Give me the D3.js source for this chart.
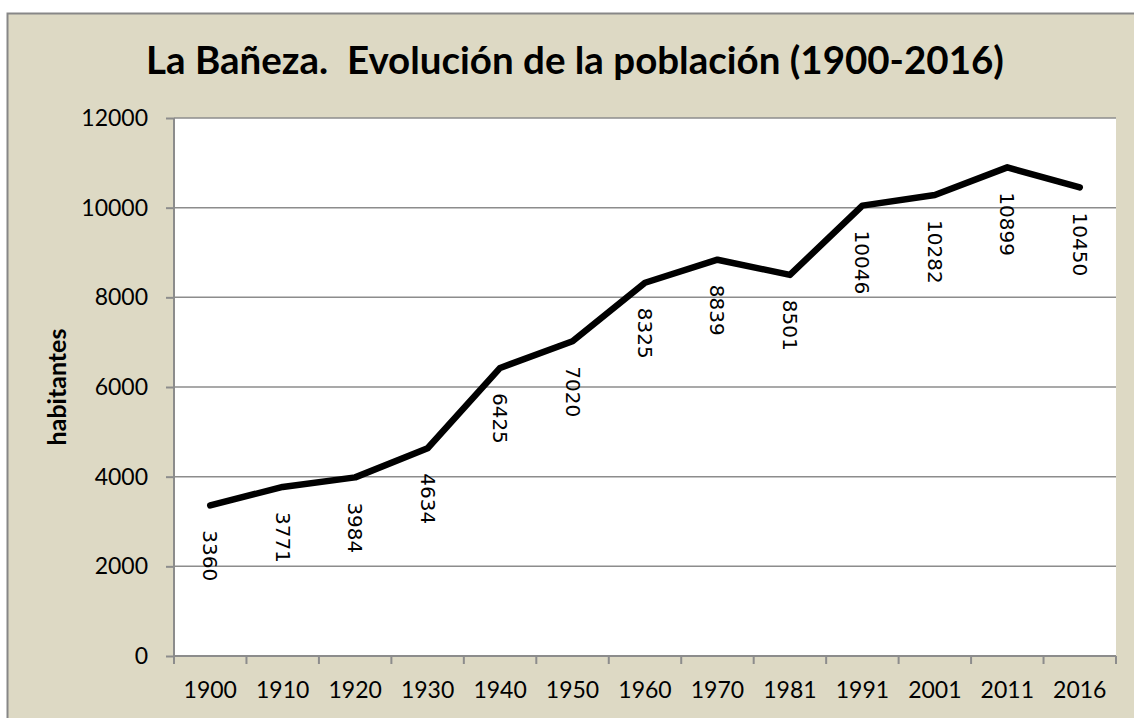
<!DOCTYPE html>
<html><head><meta charset="utf-8">
<script src="https://cdn.jsdelivr.net/npm/d3@7"></script>
<style>
body{margin:0;background:#fff;}
svg{display:block;}
</style></head>
<body>
<script>
const years = ["1900","1910","1920","1930","1940","1950","1960","1970","1981","1991","2001","2011","2016"];
const population = [3360,3771,3984,4634,6425,7020,8325,8839,8501,10046,10282,10899,10450];
const yTicks = [0,2000,4000,6000,8000,10000,12000];
const title = "La Bañeza.  Evolución de la población (1900-2016)";
const yLabel = "habitantes";

const W = 1134, H = 718;
const svg = d3.select("body").append("svg").attr("width", W).attr("height", H);

// chart background with border
svg.append("rect").attr("x", 7.5).attr("y", 13.5).attr("width", W + 20).attr("height", H + 20)
  .attr("fill", "#ddd9c4").attr("stroke", "#878787").attr("stroke-width", 2);

const pL = 174, pR = 1116, pT = 118, pB = 656;

const x = d3.scaleBand().domain(years).range([pL, pR]);
const y = d3.scaleLinear().domain([0, 12000]).range([pB, pT]);

svg.append("rect").attr("x", pL).attr("y", pT).attr("width", pR - pL).attr("height", pB - pT).attr("fill", "#fff");

// gridlines
svg.append("g").selectAll("line").data(yTicks.filter(d => d > 0)).join("line")
  .attr("x1", pL).attr("x2", pR).attr("y1", d => y(d)).attr("y2", d => y(d))
  .attr("stroke", "#8c8c8c").attr("stroke-width", 1.5);

const fontTick = "Lato, 'Open Sans', sans-serif";

// y axis
const yAxis = svg.append("g").attr("transform", `translate(${pL},0)`)
  .call(d3.axisLeft(y).tickValues(yTicks).tickSize(8).tickPadding(18).tickFormat(d3.format("d")));
yAxis.select(".domain").attr("stroke", "#8c8c8c").attr("stroke-width", 2).attr("d", `M0,${pT}V${pB}`);
yAxis.selectAll(".tick line").attr("stroke", "#8c8c8c").attr("stroke-width", 2);
yAxis.selectAll(".tick text").attr("font-family", fontTick).attr("font-size", 23).attr("fill", "#000");

// x axis
const xAxis = svg.append("g").attr("transform", `translate(0,${pB})`)
  .call(d3.axisBottom(x).tickSize(0).tickPadding(26));
xAxis.select(".domain").attr("stroke", "#8c8c8c").attr("stroke-width", 2).attr("d", `M${pL},0H${pR}`);
xAxis.selectAll(".tick text").attr("font-family", fontTick).attr("font-size", 23).attr("fill", "#000");
// category boundary ticks
const bounds = years.map(d => x(d)).concat([pR]);
svg.append("g").selectAll("line").data(bounds).join("line")
  .attr("x1", d => d).attr("x2", d => d).attr("y1", pB).attr("y2", pB + 8)
  .attr("stroke", "#8c8c8c").attr("stroke-width", 2);

// line
const cx = d => x(d) + x.bandwidth() / 2;
const line = d3.line().x((d, i) => cx(years[i])).y(d => y(d));
svg.append("path").datum(population).attr("d", line)
  .attr("fill", "none").attr("stroke", "#000").attr("stroke-width", 6.5)
  .attr("stroke-linejoin", "round").attr("stroke-linecap", "round");

// data labels (rotated 90deg)
svg.append("g").selectAll("text").data(population).join("text")
  .attr("transform", (d, i) => `translate(${cx(years[i])},${y(d) + 25}) rotate(90)`)
  .attr("dy", "0.35em")
  .attr("font-family", "'DejaVu Sans', sans-serif").attr("font-size", 20).attr("fill", "#000")
  .text(d => d);

// title
svg.append("text").attr("x", 575).attr("y", 74).attr("text-anchor", "middle")
  .style("white-space", "pre")
  .attr("font-family", "Lato, 'Open Sans', sans-serif").attr("font-weight", "bold")
  .attr("font-size", 38.5).attr("fill", "#000").text(title);

// y label
svg.append("text").attr("transform", "translate(66,387) rotate(-90)").attr("text-anchor", "middle")
  .attr("font-family", "Lato, 'Open Sans', sans-serif").attr("font-weight", "bold")
  .attr("font-size", 25).attr("fill", "#000").text(yLabel);
</script>
</body></html>
